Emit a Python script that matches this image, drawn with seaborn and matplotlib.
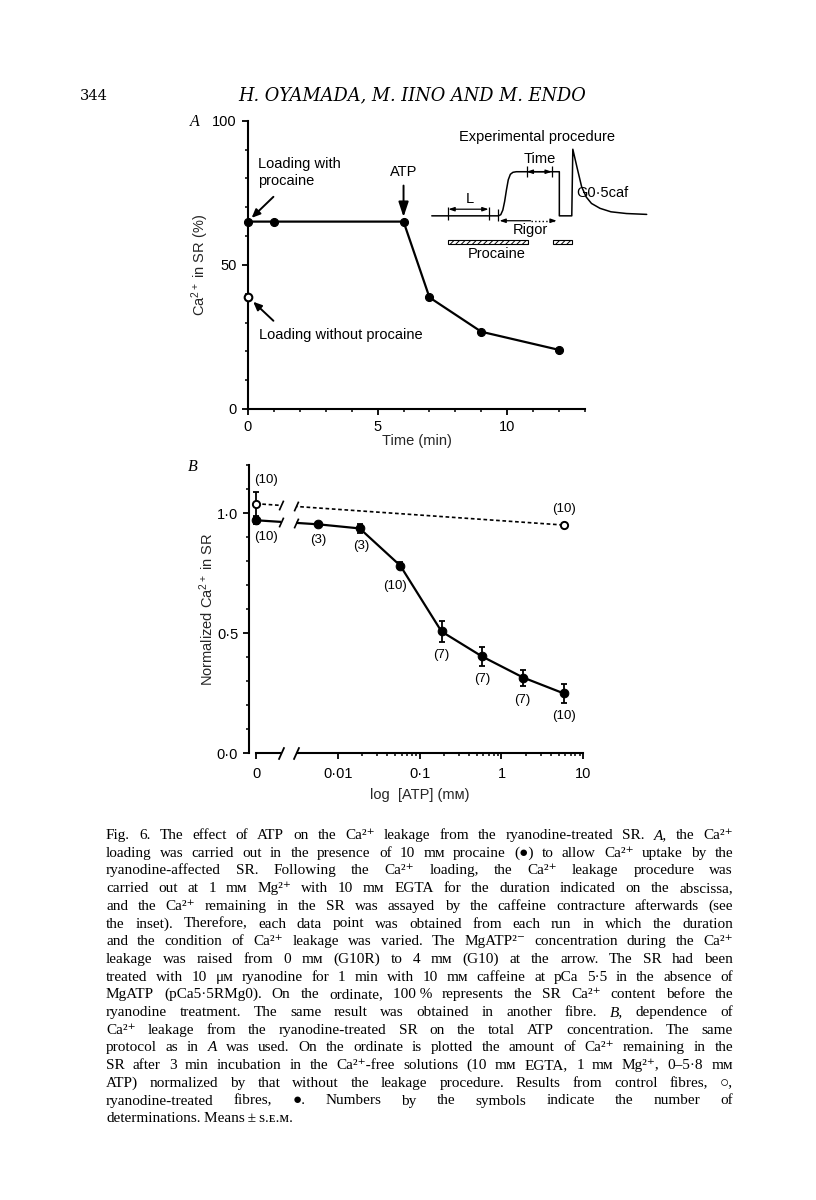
import numpy as np
import matplotlib
matplotlib.use('Agg')
import matplotlib.pyplot as plt
import seaborn as sns
from matplotlib.patches import Rectangle
from matplotlib.ticker import MultipleLocator, FixedLocator, FixedFormatter

# ---- Panel A: Ca2+ left in the SR against leak time ----
time_min = [0, 1, 6, 7, 9, 12]
ca_procaine = [65, 65, 65, 38.7, 26.8, 20.5]
time_noproc = [0]
ca_noproc = [38.7]

# inset sketch of the protocol in A's data units
trace_x = [7.09, 9.66, 9.75, 9.83, 9.90, 9.97, 10.04, 10.12, 10.22, 10.35,
           12.01, 12.01, 12.49, 12.53, 12.70, 12.87, 13.05, 13.25, 13.58,
           14.00, 14.60, 15.38]
trace_y = [67.0, 67.0, 67.4, 69.0, 72.0, 76.0, 79.5, 81.4, 82.1, 82.3,
           82.3, 67.0, 67.0, 90.1, 83.5, 77.1, 73.5, 71.3, 69.6,
           68.4, 67.8, 67.5]

# ---- Panel B: normalized Ca2+ against total ATP ----
atp_mM = [0, 0.0058, 0.0185, 0.058, 0.185, 0.58, 1.85, 5.8]
ryan_norm = [0.97, 0.953, 0.936, 0.781, 0.507, 0.403, 0.315, 0.249]
ryan_sem = [0.015, 0.01, 0.02, 0.015, 0.042, 0.038, 0.033, 0.038]
ryan_n = [10, 3, 3, 10, 7, 7, 7, 10]
ctrl_atp_mM = [0, 5.8]
ctrl_norm = [1.039, 0.95]
ctrl_sem = [0.05, 0.0]
ctrl_n = [10, 10]

# label offsets (points) for the (n) numbers
ryan_off = [(7, -12), (0, -11.5), (1, -13), (-4, -14.5), (0, -17), (0, -16.5), (-0.7, -16), (0, -16.5)]
ctrl_off = [(7, 17), (0, 11.5)]

# caption; words wrapped in * are set in italics
caption = [
    "Fig. 6. The effect of ATP on the Ca²⁺ leakage from the ryanodine-treated SR. *A*, the Ca²⁺",
    "loading was carried out in the presence of 10 mᴍ procaine (●) to allow Ca²⁺ uptake by the",
    "ryanodine-affected SR. Following the Ca²⁺ loading, the Ca²⁺ leakage procedure was",
    "carried out at 1 mᴍ Mg²⁺ with 10 mᴍ EGTA for the duration indicated on the abscissa,",
    "and the Ca²⁺ remaining in the SR was assayed by the caffeine contracture afterwards (see",
    "the inset). Therefore, each data point was obtained from each run in which the duration",
    "and the condition of Ca²⁺ leakage was varied. The MgATP²⁻ concentration during the Ca²⁺",
    "leakage was raised from 0 mᴍ (G10R) to 4 mᴍ (G10) at the arrow. The SR had been",
    "treated with 10 μᴍ ryanodine for 1 min with 10 mᴍ caffeine at pCa 5·5 in the absence of",
    "MgATP (pCa5·5RMg0). On the ordinate, 100\u00a0% represents the SR Ca²⁺ content before the",
    "ryanodine treatment. The same result was obtained in another fibre. *B*, dependence of",
    "Ca²⁺ leakage from the ryanodine-treated SR on the total ATP concentration. The same",
    "protocol as in *A* was used. On the ordinate is plotted the amount of Ca²⁺ remaining in the",
    "SR after 3 min incubation in the Ca²⁺-free solutions (10 mᴍ EGTA, 1 mᴍ Mg²⁺, 0–5·8 mᴍ",
    "ATP) normalized by that without the leakage procedure. Results from control fibres, ○,",
    "ryanodine-treated fibres, ●. Numbers by the symbols indicate the number of",
    "determinations. Means\u2009±\u2009s.ᴇ.ᴍ.",
]

sns.set_style('ticks')
plt.rcParams['font.family'] = ['Liberation Sans', 'DejaVu Sans']
plt.rcParams['mathtext.fontset'] = 'custom'
plt.rcParams['mathtext.rm'] = 'Liberation Sans'
plt.rcParams['mathtext.it'] = 'Liberation Sans:italic'
plt.rcParams['mathtext.bf'] = 'Liberation Sans:bold'
plt.rcParams['axes.linewidth'] = 1.5
plt.rcParams['axes.edgecolor'] = 'black'
plt.rcParams['hatch.linewidth'] = 0.7
plt.rcParams['text.color'] = 'black'

W, H = 816, 1200
fig = plt.figure(figsize=(W / 100, H / 100), dpi=100)
axA = fig.add_axes([248 / W, 1 - 409 / H, 337 / W, 288.3 / H])
axB = fig.add_axes([249.3 / W, 1 - 753.3 / H, 334 / W, 288.3 / H])
sns.despine(fig=fig)

for ax in (axA, axB):
    ax.tick_params(which='major', direction='out', length=4, width=1.3, labelsize=10.5,
                   pad=4, color='black', labelcolor='black')
    ax.tick_params(which='minor', direction='out', length=2.5, width=1.1, color='black')

# ---------------- Panel A ----------------
sns.lineplot(x=time_min, y=ca_procaine, ax=axA, color='black', lw=1.6, marker='o',
             markersize=5.8, markeredgecolor='black', clip_on=False, errorbar=None, zorder=4)
sns.lineplot(x=time_noproc, y=ca_noproc, ax=axA, color='black', marker='o', markersize=5.5,
             markerfacecolor='white', markeredgecolor='black', markeredgewidth=1.5,
             clip_on=False, errorbar=None, zorder=4)
axA.set_xlim(0, 13)
axA.set_ylim(0, 100)
axA.xaxis.set_major_locator(MultipleLocator(5))
axA.xaxis.set_minor_locator(MultipleLocator(1))
axA.yaxis.set_major_locator(MultipleLocator(50))
axA.yaxis.set_minor_locator(MultipleLocator(10))
axA.set_xlabel('Time (min)', fontsize=10.5)
axA.set_ylabel('Ca$^{2+}$ in SR (%)', fontsize=10.5)
axA.xaxis.set_label_coords(0.5, -0.085)
axA.yaxis.set_label_coords(-0.11, 0.5)

arr = dict(arrowstyle='-|>,head_length=0.5,head_width=0.22', lw=1.4, color='black',
           shrinkA=0, shrinkB=0)
axA.text(0.40, 82.0, 'Loading with\nprocaine', fontsize=10.5, ha='left', va='center',
         linespacing=1.2)
axA.annotate('', xy=(0.14, 66.3), xytext=(0.98, 73.6), arrowprops=arr)
axA.annotate('', xy=(0.2, 37.2), xytext=(0.98, 30.6), arrowprops=arr)
axA.text(0.44, 25.7, 'Loading without procaine', fontsize=10.5, ha='left', va='center')
axA.annotate('', xy=(6.0, 66.6), xytext=(6.0, 77.5),
             arrowprops=dict(arrowstyle='-|>,head_length=0.9,head_width=0.3', lw=1.4,
                             color='black', shrinkA=0, shrinkB=0))
axA.text(6.02, 82.3, 'ATP', fontsize=10.5, ha='center', va='center')

# inset: experimental procedure
axA.plot(trace_x, trace_y, color='black', lw=1.1, clip_on=False, zorder=3)
axA.vlines([7.73, 9.28], 65.6, 70.2, color='black', lw=0.9, clip_on=False)
axA.vlines([9.66], 65.2, 69.2, color='black', lw=0.9, clip_on=False)
axA.vlines([10.75, 11.72], 80.6, 84.2, color='black', lw=0.9, clip_on=False)
small = dict(arrowstyle='<|-|>,head_length=0.35,head_width=0.12', lw=0.9, color='black',
             shrinkA=0, shrinkB=0)
axA.annotate('', xy=(7.73, 69.3), xytext=(9.28, 69.3), arrowprops=small)
axA.annotate('', xy=(10.75, 82.3), xytext=(11.72, 82.3), arrowprops=small)
head = dict(arrowstyle='-|>,head_length=0.35,head_width=0.12', lw=0.9, color='black',
            shrinkA=0, shrinkB=0)
axA.annotate('', xy=(9.70, 65.3), xytext=(10.9, 65.3), arrowprops=head)
axA.plot([10.9, 11.80], [65.3, 65.3], color='black', ls=':', lw=1.0)
axA.annotate('', xy=(11.91, 65.3), xytext=(11.75, 65.3), arrowprops=head)
for x0, x1 in [(7.73, 10.79), (11.76, 12.49)]:
    axA.add_patch(Rectangle((x0, 57.1), x1 - x0, 1.4, facecolor='white', edgecolor='black',
                            hatch='//////', lw=0.8, clip_on=False))
axA.text(11.16, 94.4, 'Experimental procedure', fontsize=10.5, ha='center', va='center')
axA.text(8.55, 72.8, 'L', fontsize=10.5, ha='center', va='center')
axA.text(11.24, 86.8, 'Time', fontsize=10.5, ha='center', va='center')
axA.text(10.88, 62.0, 'Rigor', fontsize=10.5, ha='center', va='center')
axA.text(9.59, 53.9, 'Procaine', fontsize=10.5, ha='center', va='center')
axA.text(12.68, 75.0, 'G0\u00b75caf', fontsize=10.5, ha='left', va='center')

# ---------------- Panel B ----------------
X0 = 0.002
L0 = np.log10(X0)


def fwd(x):
    x = np.asarray(x, dtype=float)
    return np.where(x >= X0, np.log10(np.maximum(x, X0)), -3 + x / X0 * (L0 + 3))


def inv(y):
    y = np.asarray(y, dtype=float)
    return np.where(y >= L0, 10 ** np.clip(y, L0, 10), (y + 3) / (L0 + 3) * X0)


axB.set_xscale('function', functions=(fwd, inv))
axB.set_xlim(float(inv(-3.082)), 10)
axB.set_ylim(0, 1.2)

axB.errorbar(atp_mM, ryan_norm, yerr=ryan_sem, fmt='none', ecolor='black', elinewidth=1.3,
             capsize=2.5, capthick=1.3, clip_on=False, zorder=3)
sns.lineplot(x=atp_mM, y=ryan_norm, ax=axB, color='black', lw=1.6, marker='o', markersize=6.2,
             markeredgecolor='black', clip_on=False, errorbar=None, zorder=4)
axB.errorbar(ctrl_atp_mM, ctrl_norm, yerr=ctrl_sem, fmt='none', ecolor='black', elinewidth=1.3,
             capsize=2.5, capthick=1.3, clip_on=False, zorder=3)
sns.lineplot(x=ctrl_atp_mM, y=ctrl_norm, ax=axB, color='black', lw=1.2,
             linestyle=(0, (2.2, 1.6)), marker='o', markersize=5.2, markerfacecolor='white',
             markeredgecolor='black', markeredgewidth=1.4, clip_on=False, errorbar=None, zorder=4)

for x, y, n, (dx, dy) in zip(atp_mM, ryan_norm, ryan_n, ryan_off):
    axB.annotate(f'({n})', (x, y), xytext=(dx, dy), textcoords='offset points',
                 ha='center', va='center', fontsize=9.5)
for x, y, n, (dx, dy) in zip(ctrl_atp_mM, ctrl_norm, ctrl_n, ctrl_off):
    axB.annotate(f'({n})', (x, y), xytext=(dx, dy), textcoords='offset points',
                 ha='center', va='center', fontsize=9.5)

axB.spines['bottom'].set_bounds(0, 10)
axB.xaxis.set_major_locator(FixedLocator([0, 0.01, 0.1, 1, 10]))
axB.xaxis.set_major_formatter(FixedFormatter(['0', '0\u00b701', '0\u00b71', '1', '10']))
minor = [m * 10.0 ** e for e in (-2, -1, 0) for m in range(2, 10)]
axB.xaxis.set_minor_locator(FixedLocator(minor))
axB.yaxis.set_major_locator(FixedLocator([0, 0.5, 1.0]))
axB.yaxis.set_major_formatter(FixedFormatter(['0\u00b70', '0\u00b75', '1\u00b70']))
axB.yaxis.set_minor_locator(MultipleLocator(0.1))
axB.tick_params(axis='x', which='major', pad=6)
axB.set_xlabel('log  [ATP] (m\u1d0d)', fontsize=10.5)
axB.set_ylabel('Normalized Ca$^{2+}$ in SR', fontsize=10.5)
axB.xaxis.set_label_coords(0.51, -0.122)
axB.yaxis.set_label_coords(-0.1, 0.5)

# axis break
BRK_LO, BRK_HI = 0.002, 0.0031
axB.axvspan(BRK_LO, BRK_HI, ymin=-0.03, ymax=1.0, color='white', zorder=5, clip_on=False, lw=0)
SLASH = [(-0.45, -1.0), (0.45, 1.0)]


def y_at(xb, xs, ys):
    return float(np.interp(fwd(xb), fwd(xs[:2]), ys[:2]))


for xs, ys in [(atp_mM, ryan_norm), (ctrl_atp_mM, ctrl_norm)]:
    axB.plot([BRK_LO, BRK_HI], [y_at(BRK_LO, xs, ys), y_at(BRK_HI, xs, ys)], ls='none',
             marker=SLASH, ms=7, mfc='none', mec='black', mew=1.2, zorder=6, clip_on=False)
axB.plot([BRK_LO, BRK_HI], [0, 0], ls='none', marker=SLASH, ms=9, mfc='none', mec='black',
         mew=1.3, zorder=6, clip_on=False)

# panel letters
fig.text(195 / W, 1 - 122 / H, 'A', fontsize=11.5, style='italic', family='Liberation Serif',
         ha='center', va='center')
fig.text(193 / W, 1 - 467 / H, 'B', fontsize=11.5, style='italic', family='Liberation Serif',
         ha='center', va='center')

# page header
hdr = ['DejaVu Serif', 'DejaVu Sans']
fig.text(80 / W, 1 - 100 / H, '344', fontsize=10.5, family=hdr, va='baseline', ha='left')
fig.text(412 / W, 1 - 100 / H, 'H. OYAMADA, M. IINO AND M. ENDO', fontsize=12.8,
         family=hdr, style='italic', va='baseline', ha='center')

# caption, justified word by word
serif = ['Liberation Serif', 'DejaVu Serif', 'DejaVu Sans']
CAP_L, CAP_R = 106, 733
CAP_Y0, CAP_STEP = 839, 17.7
renderer = fig.canvas.get_renderer()
cap_kw = dict(family=serif, va='baseline', ha='left')


def clean(s):
    return s.replace('*', '')


probe = [fig.text(0, 0, clean(ln), fontsize=10, **cap_kw) for ln in caption[:-1]]
maxw = max(t.get_window_extent(renderer).width for t in probe)
for t in probe:
    t.remove()
cap_size = min(11.0, 10 * 0.99 * (CAP_R - CAP_L) / maxw)

for i, ln in enumerate(caption):
    y = 1 - (CAP_Y0 + i * CAP_STEP) / H
    words = ln.split(' ')
    texts = [fig.text(0, y, clean(w), fontsize=cap_size,
                      style='italic' if '*' in w else 'normal', **cap_kw) for w in words]
    widths = [t.get_window_extent(renderer).width for t in texts]
    if i == len(caption) - 1:
        gap = fig.text(0, 0, 'a a', fontsize=cap_size, **cap_kw).get_window_extent(renderer).width \
            - fig.text(0, 0, 'aa', fontsize=cap_size, **cap_kw).get_window_extent(renderer).width
        fig.texts[-1].remove()
        fig.texts[-1].remove()
    else:
        gap = (CAP_R - CAP_L - sum(widths)) / (len(words) - 1)
    x = CAP_L
    for t, w in zip(texts, widths):
        t.set_x(x / W)
        x += w + gap

fig.savefig('out.png', dpi=100, facecolor='white')
